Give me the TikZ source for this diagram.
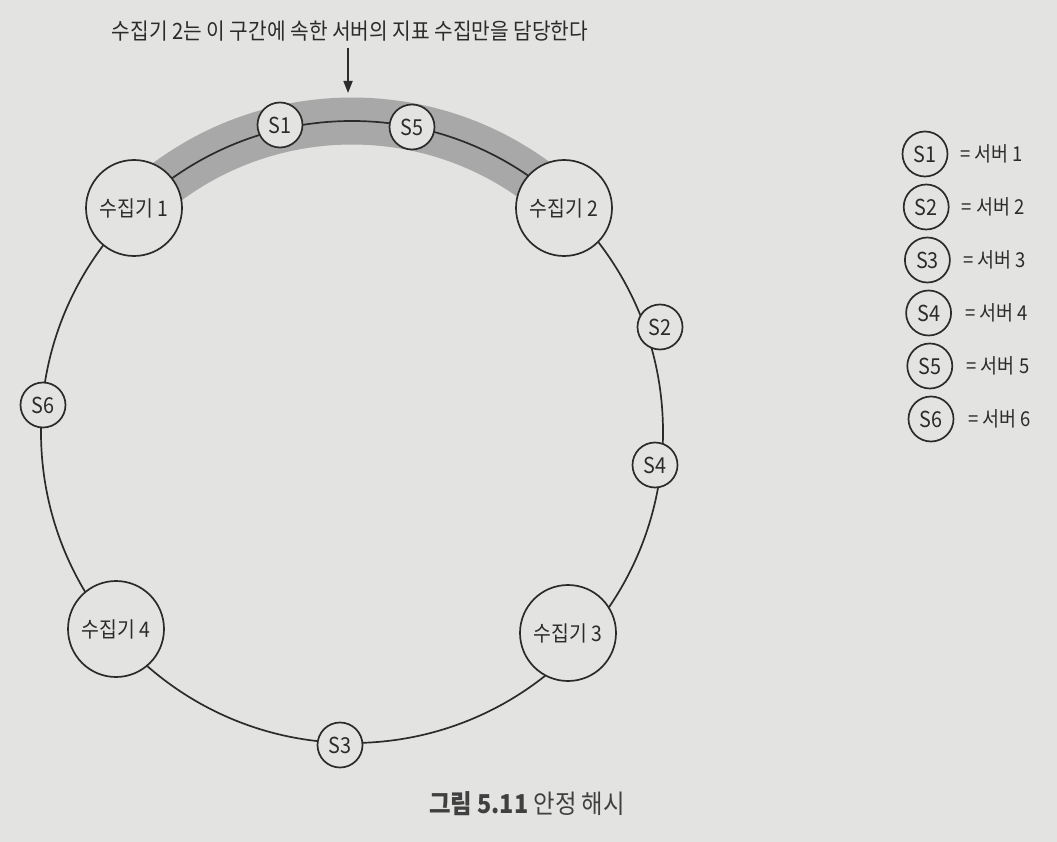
\documentclass[tikz,border=0pt]{standalone}
\usepackage{fontspec}
\setmainfont[FakeStretch=0.9]{Noto Sans CJK KR}
\usetikzlibrary{arrows.meta}
\definecolor{bg}{HTML}{E3E3E1}
\definecolor{ink}{HTML}{2B2B2B}
\definecolor{bandgray}{HTML}{A8A8A8}
\begin{document}
\begin{tikzpicture}[x=1pt,y=-1pt,
  srv/.style={circle,draw=ink,line width=1.7pt,fill=bg,minimum size=45pt,inner sep=0pt,text=ink,font=\fontsize{22}{22}\selectfont},
  col/.style={srv,minimum size=96pt,font=\fontsize{21.5}{21.5}\selectfont},
  lbl/.style={text=ink,font=\fontsize{20.5}{20.5}\selectfont,anchor=west,inner sep=0pt},
  ring/.style={draw=ink,line width=1.7pt},
  bandstyle/.style={draw=bandgray,line width=47pt}]
\fill[bg] (0,0) rectangle (1057,842);
\useasboundingbox (0,0) rectangle (1057,842);
% ring centre
\coordinate (O) at (352,432);
% highlighted band (collector 2's range)
\draw[bandstyle] (O) ++(-134.6:311) arc[start angle=-134.6, end angle=-46.3, radius=311];
% ring
\draw[ring] (O) circle[radius=311];
% collectors
\node[col] (c1) at (134,208) {수집기 1};
\node[col] (c2) at (564,208) {수집기 2};
\node[col] (c3) at (568,633) {수집기 3};
\node[col] (c4) at (116,629) {수집기 4};
% servers
\node[srv] (s1) at (280,125) {S1};
\node[srv] (s5) at (412,127) {S5};
\node[srv] (s2) at (660,327) {S2};
\node[srv] (s4) at (655,465) {S4};
\node[srv] (s6) at (43,405) {S6};
\node[srv] (s3) at (340,745) {S3};
% title and arrow
\node[text=ink,font=\fontsize{22.5}{22.5}\selectfont,inner sep=0pt] (title) at (350,31) {수집기 2는 이 구간에 속한 서버의 지표 수집만을 담당한다};
\coordinate (atop) at (348,48);
\coordinate (atip) at (348,93);
\draw[ink,line width=1.7pt,-{Triangle[length=12pt,width=9pt]}] (atop) -- (atip);
% legend
\foreach \i in {1,...,6}{
  \node[srv] (L\i) at ({925+1.2*(\i-1)},{154+53*(\i-1)}) {S\i};
  \node[lbl] (T\i) at ({960+1.6*(\i-1)},{154+53*(\i-1)}) {= 서버 \i};
}
% caption
\node[text=ink!90,font=\fontsize{26}{26}\selectfont,inner sep=0pt] (cap) at (527,804) {\textbf{그림 5.11} 안정 해시};
\end{tikzpicture}
\end{document}
